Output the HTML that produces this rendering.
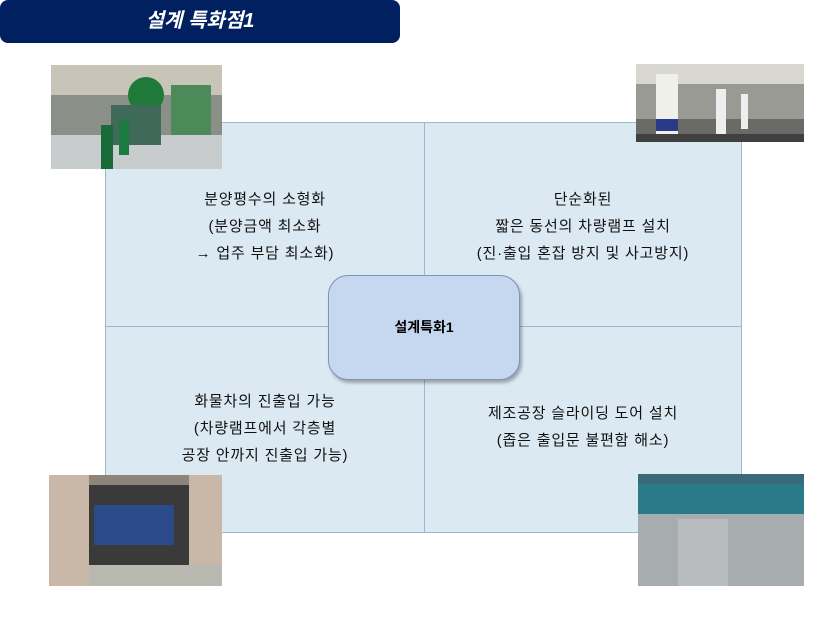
<!DOCTYPE html><html><head><meta charset="utf-8"><style>
body{margin:0;width:840px;height:630px;background:#fff;position:relative;overflow:hidden;font-family:"Liberation Sans","Noto Sans CJK KR",sans-serif}
.t{position:absolute;left:0;top:0;width:400px;height:43px;background:#00205f;border-radius:8px;color:#fff;font-style:italic;font-size:20px;text-align:center;line-height:43px;font-weight:bold}
.q{position:absolute;background:#dbeaf2;border:1px solid #9fb7cc;box-sizing:border-box}
.tx{position:absolute;text-align:center;font-size:15px;letter-spacing:0.8px;line-height:27px;color:#111}
.c{position:absolute;left:328px;top:275px;width:192px;height:105px;background:#c6d8f0;border:1.5px solid #7d93b8;border-radius:20px;box-sizing:border-box;box-shadow:2px 3px 3px rgba(0,0,0,.3);text-align:center;line-height:102px;font-size:14px;font-weight:bold}
.p{position:absolute}
</style></head><body>
<div class="t">설계 특화점1</div>
<div class="q" style="left:105px;top:122px;width:320px;height:205px"></div>
<div class="q" style="left:424px;top:122px;width:318px;height:205px"></div>
<div class="q" style="left:105px;top:326px;width:320px;height:207px"></div>
<div class="q" style="left:424px;top:326px;width:318px;height:207px"></div>
<div class="tx" style="left:105px;top:186px;width:320px">분양평수의 소형화<br>(분양금액 최소화<br>→ 업주 부담 최소화)</div>
<div class="tx" style="left:424px;top:186px;width:318px">단순화된<br>짧은 동선의 차량램프 설치<br>(진·출입 혼잡 방지 및 사고방지)</div>
<div class="tx" style="left:105px;top:388px;width:320px">화물차의 진출입 가능<br>(차량램프에서 각층별<br>공장 안까지 진출입 가능)</div>
<div class="tx" style="left:424px;top:400px;width:318px">제조공장 슬라이딩 도어 설치<br>(좁은 출입문 불편함 해소)</div>
<div class="c">설계특화1</div>
<svg class="p" style="left:51px;top:65px" width="171" height="104"><rect width="171" height="104" fill="#8a9088"/><rect y="0" width="171" height="30" fill="#c8c4b8"/><rect x="0" y="70" width="171" height="34" fill="#c9cccc"/><circle cx="95" cy="30" r="18" fill="#1f7a3a"/><rect x="60" y="40" width="50" height="40" fill="#3f6a5a"/><rect x="120" y="20" width="40" height="50" fill="#4d8a5a"/><rect x="50" y="60" width="12" height="44" fill="#1a6a3a"/><rect x="68" y="55" width="10" height="35" fill="#1a7a40"/></svg>
<svg class="p" style="left:636px;top:64px" width="168" height="78"><rect width="168" height="78" fill="#9a9a94"/><rect width="168" height="20" fill="#d8d8d0"/><rect y="55" width="168" height="23" fill="#6a6a66"/><rect x="20" y="10" width="22" height="60" fill="#f0f0ea"/><rect x="20" y="55" width="22" height="12" fill="#2a3a8a"/><rect x="80" y="25" width="10" height="45" fill="#eee"/><rect x="105" y="30" width="7" height="35" fill="#eee"/><rect x="0" y="70" width="168" height="8" fill="#404040"/></svg>
<svg class="p" style="left:49px;top:475px" width="173" height="111"><rect width="173" height="111" fill="#8d857a"/><rect x="0" width="40" height="111" fill="#c9b8a8"/><rect x="140" width="33" height="111" fill="#c9b8a8"/><rect x="40" y="10" width="100" height="80" fill="#3a3a3a"/><rect x="45" y="30" width="80" height="40" fill="#2a4a8a"/><rect x="40" y="90" width="133" height="21" fill="#b8b8b0"/></svg>
<svg class="p" style="left:638px;top:474px" width="166" height="112"><rect width="166" height="112" fill="#a7adaf"/><rect width="166" height="10" fill="#3a6a7a"/><rect y="10" width="166" height="30" fill="#2a7a8a"/><rect x="40" y="45" width="50" height="67" fill="#b8bcbe"/></svg>
</body></html>
